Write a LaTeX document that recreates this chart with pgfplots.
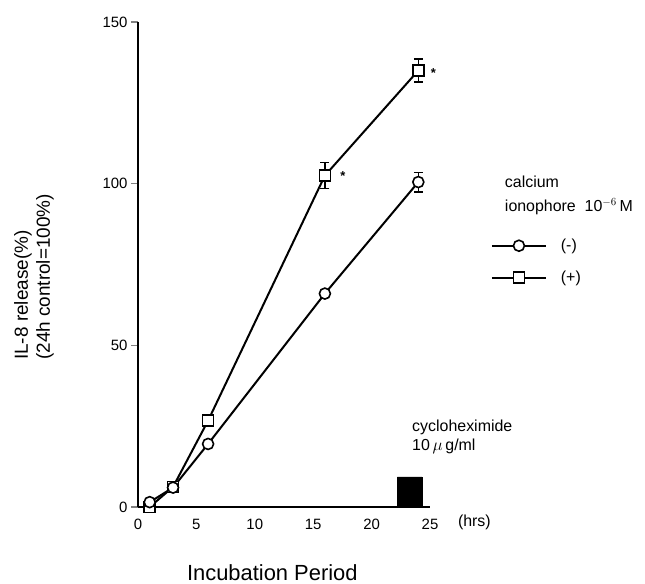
\documentclass[border=0pt]{standalone}
\usepackage{fontspec}
\setmainfont{Liberation Sans}
\usepackage{pgfplots}
\pgfplotsset{compat=1.18}

\begin{document}
\begin{tikzpicture}[x=1bp,y=1bp]
\useasboundingbox (0,0) rectangle (645,584);
% y label, two lines, left aligned
\node[rotate=90, align=left, anchor=north west, inner sep=0pt,
      font=\fontsize{19}{22}\selectfont] at (14,224)
  {IL-8 release(\%)\\(24h control=100\%)};
\begin{axis}[
  at={(138bp,77bp)}, anchor=south west,
  scale only axis, width=292bp, height=485bp,
  xmin=0, xmax=25, ymin=0, ymax=150,
  axis lines=left, axis line style={-, line width=1.2bp},
  xtick={0,5,10,15,20,25}, ytick={0,50,100,150},
  xtick style={draw=none}, ytick style={line width=1.2bp},
  major tick length=7bp, tick align=outside,
  tick label style={font=\fontsize{15}{18}\selectfont},
  /pgf/number format/assume math mode=true,
  xticklabel style={yshift=-2bp},
  clip=false,
  reverse legend,
  legend style={at={(axis cs:30.2,83.5)}, anchor=north west, draw=none, fill=none,
    inner sep=0pt, row sep=15bp, font=\fontsize{16}{18}\selectfont,
    legend cell align=left},
  legend image code/.code={%
    \draw[mark repeat=2, mark phase=2] plot coordinates {(0bp,0bp)(27bp,0bp)(54bp,0bp)};
    \path (66bp,0bp);},
  ebar/.style={forget plot, draw=none, mark=none, line width=1.6bp,
    error bars/.cd, y dir=both, y explicit,
    error bar style={line width=1.6bp, black},
    error mark options={rotate=90, mark size=4.5bp, line width=1.6bp, black}},
]
% cycloheximide bar
\addplot[fill=black, draw=black, forget plot] coordinates
  {(22.2,0)(22.2,9.3)(24.3,9.3)(24.3,0)} \closedcycle;
% error bars first, so the open marks cover their middle
\addplot[ebar] coordinates {(16,66)+-(0,0) (24,100.5)+-(0,3)};
\addplot[ebar] coordinates {(16,102.5)+-(0,4) (24,135)+-(0,3.5)};
% (+) with ionophore
\addplot[black, line width=2bp, mark=square*, mark size=5.5bp,
  mark options={fill=white, draw=black, line width=1.6bp}]
  coordinates {(1,0) (3,6.2) (6,26.7) (16,102.5) (24,135)};
\addlegendentry{(+)}
% (-) without ionophore
\addplot[black, line width=2bp, mark=*, mark size=5.5bp,
  mark options={fill=white, draw=black, line width=1.6bp}]
  coordinates {(1,1.5) (3,6) (6,19.5) (16,66) (24,100.5)};
\addlegendentry{(-)}
% significance stars
\node[anchor=base, font=\fontsize{13}{14}\selectfont\bfseries] at (axis cs:17.55,101.1) {*};
\node[anchor=base, font=\fontsize{13}{14}\selectfont\bfseries] at (axis cs:25.3,132.7) {*};
% annotations
\node[anchor=west, inner sep=0pt, font=\fontsize{16}{18}\selectfont] at (axis cs:31.4,100.5) {calcium};
\node[anchor=west, inner sep=0pt, font=\fontsize{16}{18}\selectfont] at (axis cs:31.4,92.8) {ionophore\ \ 10$^{-6}$\,M};
\node[anchor=west, inner sep=0pt, font=\fontsize{16}{18}\selectfont] at (axis cs:23.46,24.7) {cycloheximide};
\node[anchor=west, inner sep=0pt, font=\fontsize{16}{18}\selectfont] at (axis cs:23.46,18.6) {10\,$\mu$\,g/ml};
\node[inner sep=0pt, font=\fontsize{16}{18}\selectfont] at (axis cs:28.8,-4.9) {(hrs)};
\node[inner sep=0pt, font=\fontsize{22}{26}\selectfont] at (axis cs:11.5,-20.4) {Incubation Period};
\end{axis}
\end{tikzpicture}
\end{document}
